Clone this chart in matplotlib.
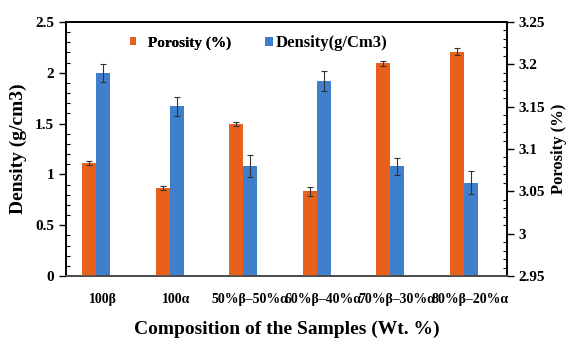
import matplotlib
matplotlib.use("Agg")
import matplotlib.pyplot as plt
import numpy as np
from matplotlib.ticker import MultipleLocator

categories = ["100β", "100α", "50%β–50%α", "60%β–40%α", "70%β–30%α", "80%β–20%α"]
density = [2.0, 1.67, 1.08, 1.92, 1.08, 0.92]
density_err = [0.088, 0.093, 0.11, 0.10, 0.085, 0.115]
porosity = [3.084, 3.054, 3.130, 3.050, 3.201, 3.215]
porosity_err = [0.0024, 0.0028, 0.0024, 0.0055, 0.0025, 0.004]

orange = "#E8611C"
blue = "#3F7FCB"

plt.rcParams['font.family'] = ['Liberation Serif', 'DejaVu Serif']
plt.rcParams['font.weight'] = 'bold'

fig = plt.figure(figsize=(5.68, 3.40), dpi=100)
ax = fig.add_axes([66/568, 1-276/340, (507-66)/568, (276-22)/340])
ax2 = ax.twinx()

x = np.arange(len(categories))
w = 0.19
shift = -0.09

b2 = ax2.bar(x + shift - w/2, porosity, w, color=orange, bottom=0,
             yerr=porosity_err, error_kw=dict(ecolor="#333333", elinewidth=0.8, capsize=2, capthick=0.8),
             label="Porosity (%)", zorder=2)
b1 = ax.bar(x + shift + w/2, density, w, color=blue,
            yerr=density_err, error_kw=dict(ecolor="#333333", elinewidth=0.8, capsize=2, capthick=0.8),
            label="Density(g/Cm3)", zorder=2)

ax.set_xlim(-0.5, 5.5)
ax.set_ylim(0, 2.5)
ax2.set_ylim(2.95, 3.25)

ax.yaxis.set_major_locator(MultipleLocator(0.5))
ax.yaxis.set_minor_locator(MultipleLocator(0.1))
ax2.yaxis.set_major_locator(MultipleLocator(0.05))
ax2.yaxis.set_minor_locator(MultipleLocator(0.01))

def fmt(v, p):
    s = f"{v:.2f}".rstrip('0').rstrip('.')
    return s
ax.yaxis.set_major_formatter(plt.FuncFormatter(fmt))
ax2.yaxis.set_major_formatter(plt.FuncFormatter(fmt))

ax.set_xticks(x)
ax.set_xticklabels(categories, fontsize=10, fontweight='bold')
ax.tick_params(axis='x', length=0, pad=12)
ax.tick_params(axis='y', which='major', direction='out', length=5, width=1, labelsize=11)
ax.tick_params(axis='y', which='minor', direction='in', length=3, width=0.8)
ax2.tick_params(axis='y', which='major', direction='out', length=5, width=1, labelsize=11)
ax2.tick_params(axis='y', which='minor', direction='in', length=3, width=0.8)
for lab in ax.get_yticklabels() + ax2.get_yticklabels():
    lab.set_fontweight('bold')

for a in (ax, ax2):
    for s in a.spines.values():
        s.set_linewidth(1.2)
        s.set_color('black')
ax2.spines['bottom'].set_color('#555555')

ax.set_ylabel("Density (g/cm3)", fontsize=14, fontweight='bold', labelpad=6)
ax2.set_ylabel("Porosity (%)", fontsize=12, fontweight='bold', labelpad=4)
ax.set_xlabel("Composition of the Samples (Wt. %)", fontsize=14, fontweight='bold', labelpad=11)

leg1 = fig.legend([b2], ["Porosity (%)"], loc='center left',
                  bbox_to_anchor=(130/568, 1-43/340), frameon=False,
                  prop=dict(size=11, weight='bold'), handlelength=0.42, handleheight=0.45,
                  handletextpad=0.75, borderpad=0, borderaxespad=0)
leg2 = fig.legend([b1], ["Density(g/Cm3)"], loc='center left',
                  bbox_to_anchor=(265/568, 1-43/340), frameon=False,
                  prop=dict(size=12, weight='bold'), handlelength=0.48, handleheight=0.45,
                  handletextpad=0.15, borderpad=0, borderaxespad=0)
fig.add_artist(leg1)

fig.savefig("out.png", dpi=100)
